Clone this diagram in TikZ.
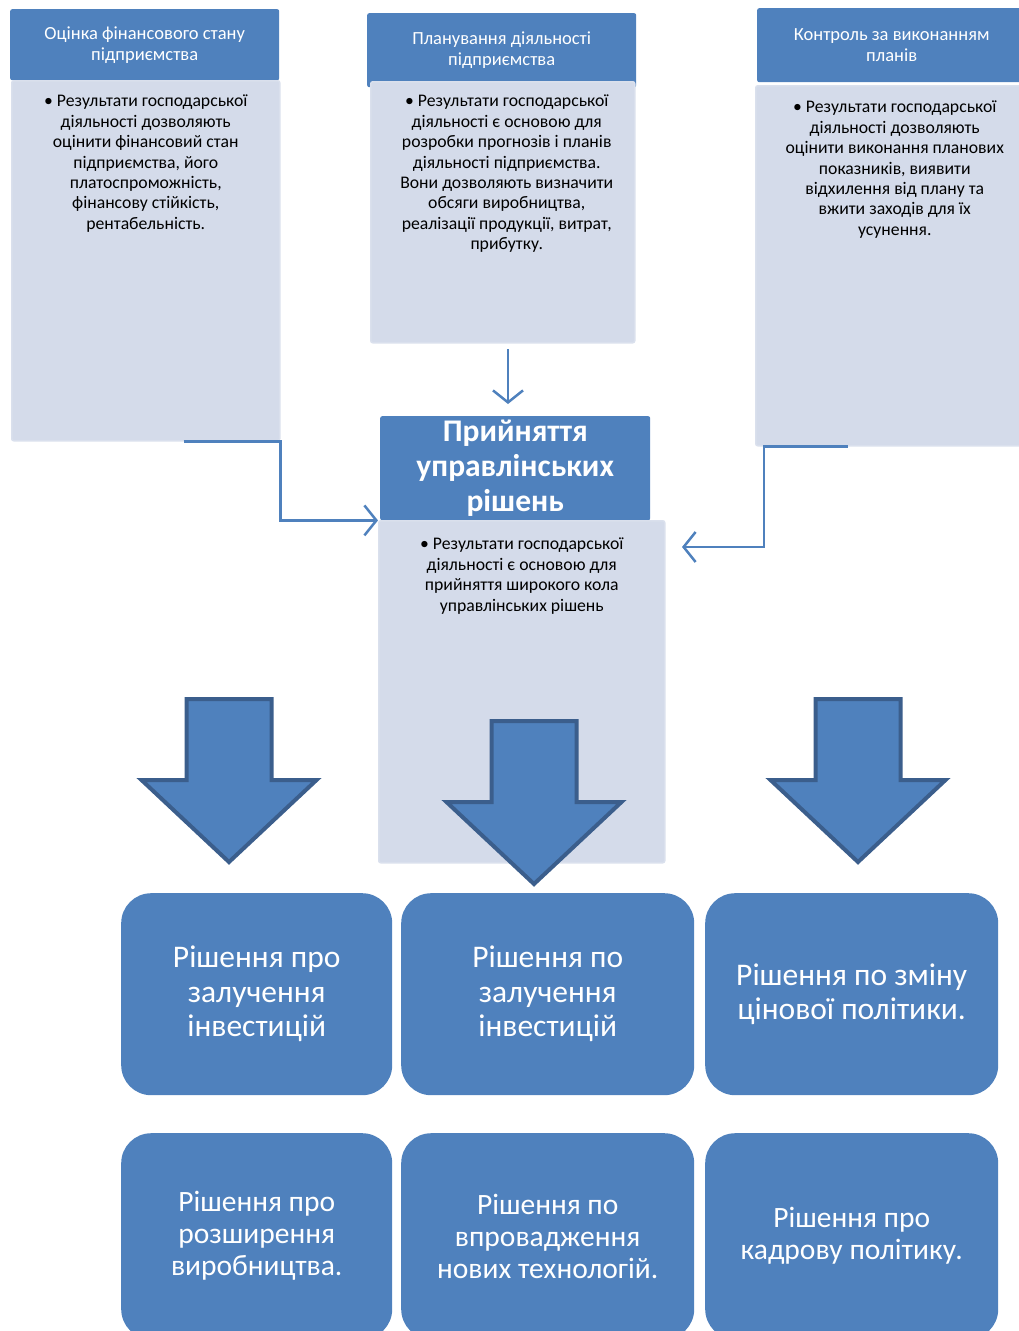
\documentclass[tikz,border=0pt]{standalone}
\usepackage{fontspec}
\setmainfont{Carlito}
\usetikzlibrary{positioning}
\usetikzlibrary{arrows.meta}
\definecolor{hdrblue}{HTML}{4F81BD}
\definecolor{bodyblue}{HTML}{D4DBEA}
\definecolor{edgeblue}{HTML}{3B5E8C}

\begin{document}
\begin{tikzpicture}[x=1pt, y=-1pt,
    hdr/.style={fill=hdrblue, rounded corners=2pt, anchor=north west, text=white, align=center,
      font=\fontsize{18.5}{21}\selectfont},
    body/.style={fill=bodyblue, draw=bodyblue!85!white, line width=1.5pt, rounded corners=2pt, anchor=north west},
    bodytext/.style={inner sep=0pt, align=center, font=\fontsize{17.7}{20.4}\selectfont},
    decision/.style={fill=hdrblue, rounded corners=30pt, anchor=north west, minimum height=202,
      text=white, align=center, font=\fontsize{31.5}{34.5}\selectfont},
    link/.style={draw=hdrblue, line width=2.5pt, -{Straight Barb[length=12pt,width=30pt]}},
    bigarrow/.style={fill=hdrblue, draw=edgeblue, line width=4pt, line join=miter}]
          \clip (0,0) rectangle (1019,1331);

          % Заголовки та блоки
          \node[hdr, minimum width=269, minimum height=71] (h1) at (10,9) {Оцінка фінансового стану\\підприємства};
          \node[body, minimum width=268, minimum height=360] (b1) at (11,80) {};
          \node[bodytext, below=15pt of b1.north] (t1) {\textbullet\ Результати господарської\\діяльності дозволяють\\оцінити фінансовий стан\\підприємства, його\\платоспроможність,\\фінансову стійкість,\\рентабельність.};

          \node[hdr, minimum width=269, minimum height=74] (h2) at (367,13) {Планування діяльності\\підприємства};
          \node[body, minimum width=264, minimum height=261] (b2) at (370,81) {};
          \node[bodytext, below=14pt of b2.north, xshift=4pt] (t2) {\textbullet\ Результати господарської\\діяльності є основою для\\розробки прогнозів і планів\\діяльності підприємства.\\Вони дозволяють визначити\\обсяги виробництва,\\реалізації продукції, витрат,\\прибутку.};

          \node[hdr, minimum width=275, minimum height=74] (h3) at (757,8) {\hspace*{-6pt}Контроль за виконанням\\\hspace*{-6pt}планів};
          \node[body, minimum width=280, minimum height=360] (b3) at (755,85) {};
          \node[bodytext, below=16pt of b3.north, xshift=-1pt] (t3) {\textbullet\ Результати господарської\\діяльності дозволяють\\оцінити виконання планових\\показників, виявити\\відхилення від плану та\\вжити заходів для їх\\усунення.};

          \node[hdr, minimum width=270, minimum height=104, font=\bfseries\fontsize{31.5}{35}\selectfont] (hc) at (380,416) {Прийняття\\управлінських\\рішень};
          \node[body, minimum width=286, minimum height=342] (cb) at (378,520) {};
          \node[bodytext, below=18pt of cb.north] (tc) {\textbullet\ Результати господарської\\діяльності є основою для\\прийняття широкого кола\\управлінських рішень};

          % Зв'язки
          \coordinate (l0) at ([xshift=-97pt]b1.south east);
          \coordinate (r0) at ([xshift=93pt]b3.south west);
          \coordinate (r1) at ([xshift=9pt]b3.south west);
          \coordinate (r2) at (682,547);
          \coordinate (m0) at (508,349);
          \draw[link, shorten >=2pt] (l0) -- (b1.south east) |- (hc.south west);
          \draw[link] (r0) -- (r1) |- (r2);
          \draw[link, shorten >=12pt] (m0) -- (m0 |- hc.north);

          % Великі стрілки
          \foreach \tx/\ty in {229/862, 534/884, 858/862}
            \draw[bigarrow] (\tx,\ty) -- ++(-87.5,-82) -- ++(45,0) -- ++(0,-81) -- ++(85,0)
              -- ++(0,81) -- ++(45,0) -- cycle;

          % Рішення
          \node[decision, minimum width=271] (d1) at (121,893) {Рішення про\\залучення\\інвестицій};
          \node[decision, minimum width=293] (d2) at (401,893) {Рішення по\\залучення\\інвестицій};
          \node[decision, minimum width=293] (d3) at (705,893) {Рішення по зміну\\цінової політики.};
          \node[decision, minimum width=271, minimum height=206, font=\fontsize{29.5}{32}\selectfont] (d4) at (121,1133) {Рішення про\\розширення\\виробництва.};
          \node[decision, minimum width=293, minimum height=206, font=\fontsize{29.5}{32}\selectfont] (d5) at (401,1133) {Рішення по\\впровадження\\нових технологій.};
          \node[decision, minimum width=293, minimum height=206, font=\fontsize{29.5}{32}\selectfont] (d6) at (705,1133) {Рішення про\\кадрову політику.};
        \end{tikzpicture}
\end{document}
